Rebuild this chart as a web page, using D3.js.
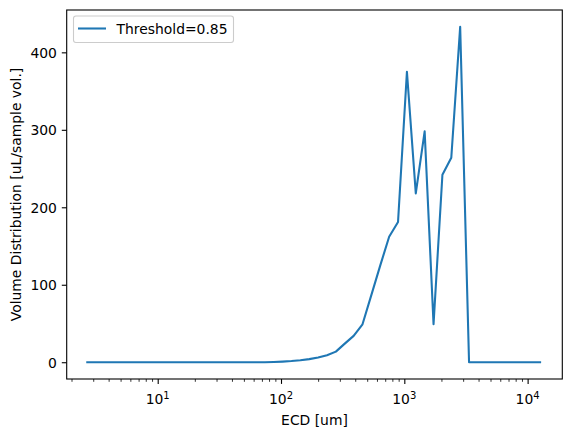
<!DOCTYPE html>
<html>
<head>
<meta charset="utf-8">
<script src="https://cdn.jsdelivr.net/npm/d3@7"></script>
<style>
  body { margin: 0; background: #fff; }
  svg text { font-family: "DejaVu Sans", sans-serif; fill: #000; }
</style>
</head>
<body>
<div class="chartView"></div>
<script>

// ECD bin centres [um] (log spaced)
var ecd = [2.685, 3.170, 3.741, 4.416, 5.212, 6.152, 7.261, 8.570, 10.12, 11.94,
  14.09, 16.63, 19.63, 23.17, 27.35, 32.28, 38.11, 44.98, 53.09, 62.66,
  73.96, 87.30, 103.0, 121.6, 143.6, 169.4, 200.0, 236.1, 278.6, 328.9,
  388.2, 458.1, 540.8, 638.3, 753.4, 889.3, 1050, 1239, 1462, 1726,
  2037, 2404, 2838, 3350, 3954, 4667, 5508, 6501, 7674, 9057,
  10690, 12620];

// volume distribution [uL/sample vol.]
var volume = [0, 0, 0, 0, 0, 0, 0, 0, 0, 0,
  0, 0, 0, 0, 0, 0, 0, 0, 0, 0,
  0, 0.3, 0.8, 1.5, 2.5, 4, 6, 9, 13.7, 24,
  34, 49, 87, 125, 162, 181, 375, 218, 298, 49,
  242, 264, 433, 0, 0, 0, 0, 0, 0, 0,
  0, 0];

var seriesName = "Threshold=0.85";
var yTicks = [0, 100, 200, 300, 400];
var xMajorPowers = [1, 2, 3, 4];
var xLabel = "ECD [um]";
var yLabel = "Volume Distribution [uL/sample vol.]";

var data = ecd.map(function(d, i) { return { x: d, y: volume[i] }; });

var W = 571, H = 437;
// plot area in pixels (window.top is read only, so no plain "top")
var pLeft = 66.7, pRight = 562.3, pTop = 10, pBottom = 379;
var fontSize = 13.9;
var lineW = 2.08;   // 1.5pt at 100dpi

var svg = d3.select(".chartView").append("svg")
    .attr("width", W)
    .attr("height", H);

// log x, matplotlib style 5% margins
var x = d3.scaleLog().domain([1.828, 19110]).range([pLeft, pRight]);
var y = d3.scaleLinear().domain([-21.65, 454.65]).range([pBottom, pTop]);

// minor ticks 2..9 per decade
var minor = [];
for (var p = 0; p <= 4; p++) {
  for (var k = 2; k <= 9; k++) {
    var v = k * Math.pow(10, p);
    if (v > x.domain()[0] && v < x.domain()[1]) minor.push(v);
  }
}
var major = xMajorPowers.map(function(p) { return Math.pow(10, p); });

var xMinorAxis = svg.append("g")
    .attr("transform", "translate(0," + pBottom + ")")
    .call(d3.axisBottom(x).tickValues(minor).tickSize(2.8).tickFormat(""));
xMinorAxis.select(".domain").remove();
xMinorAxis.selectAll("line").attr("stroke", "#000").attr("stroke-width", 0.8);

var xAxis = svg.append("g")
    .attr("transform", "translate(0," + pBottom + ")")
    .call(d3.axisBottom(x).tickValues(major).tickSize(4.9).tickFormat(""));
xAxis.select(".domain").remove();
xAxis.selectAll("line").attr("stroke", "#000").attr("stroke-width", 1.1);

// 10^n labels with superscript
xMajorPowers.forEach(function(p) {
  var t = svg.append("text")
      .attr("x", x(Math.pow(10, p)))
      .attr("y", 403.5)
      .attr("text-anchor", "middle")
      .style("font-size", fontSize + "px");
  t.append("tspan").text("10");
  t.append("tspan")
      .attr("dy", "-0.45em")
      .style("font-size", (fontSize * 0.72) + "px")
      .text(p);
});

var yAxis = svg.append("g")
    .attr("transform", "translate(" + pLeft + ",0)")
    .call(d3.axisLeft(y).tickValues(yTicks).tickSize(4.9).tickPadding(4.9));
yAxis.select(".domain").remove();
yAxis.selectAll("line").attr("stroke", "#000").attr("stroke-width", 1.1);
yAxis.selectAll("text")
    .attr("dy", "0.36em")
    .style("font-family", "DejaVu Sans")
    .style("font-size", fontSize + "px")
    .attr("fill", "#000");

// the line
var line = d3.line()
    .x(function(d) { return x(d.x); })
    .y(function(d) { return y(d.y); });

svg.append("path")
    .datum(data)
    .attr("fill", "none")
    .attr("stroke", "#1f77b4")
    .attr("stroke-width", lineW)
    .attr("stroke-linejoin", "round")
    .attr("stroke-linecap", "square")
    .attr("d", line);

// frame
svg.append("rect")
    .attr("x", pLeft)
    .attr("y", pTop)
    .attr("width", pRight - pLeft)
    .attr("height", pBottom - pTop)
    .attr("fill", "none")
    .attr("stroke", "#000")
    .attr("stroke-width", 1.1);

// axis labels
svg.append("text")
    .attr("x", (pLeft + pRight) / 2)
    .attr("y", 424.5)
    .attr("text-anchor", "middle")
    .style("font-size", fontSize + "px")
    .text(xLabel);

svg.append("text")
    .attr("transform", "translate(20.5," + ((pTop + pBottom) / 2) + ") rotate(-90)")
    .attr("text-anchor", "middle")
    .style("font-size", fontSize + "px")
    .text(yLabel);

// legend
var legend = svg.append("g");
legend.append("rect")
    .attr("x", 73.5)
    .attr("y", 16)
    .attr("width", 160)
    .attr("height", 26.5)
    .attr("rx", 2.5)
    .attr("fill", "#fff")
    .attr("fill-opacity", 0.8)
    .attr("stroke", "#cccccc")
    .attr("stroke-width", 1.1);
legend.append("line")
    .attr("x1", 78)
    .attr("x2", 106)
    .attr("y1", 28.5)
    .attr("y2", 28.5)
    .attr("stroke", "#1f77b4")
    .attr("stroke-width", lineW);
legend.append("text")
    .attr("x", 116.5)
    .attr("y", 33.7)
    .style("font-size", fontSize + "px")
    .text(seriesName);

</script>
</body>
</html>
